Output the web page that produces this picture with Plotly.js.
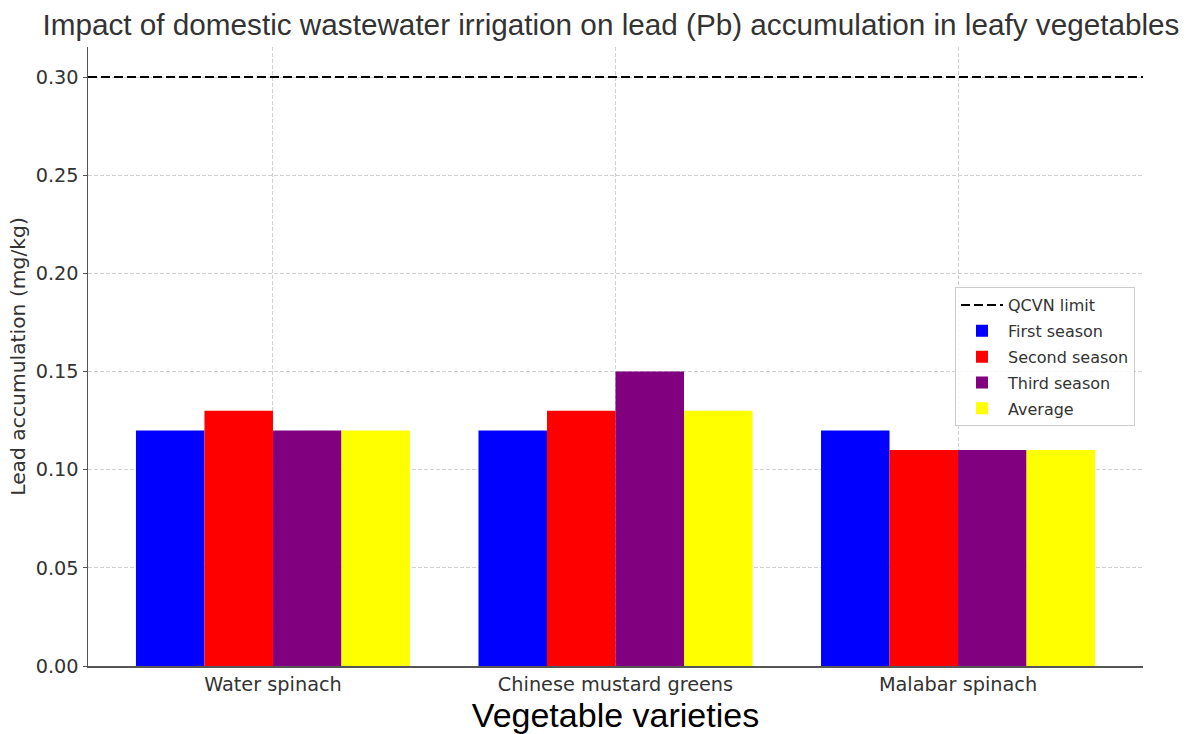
<!DOCTYPE html>
<html>
<head>
<meta charset="utf-8">
<script src="https://cdn.plot.ly/plotly-3.0.1.min.js"></script>
<style>html,body{margin:0;padding:0;background:#fff;}#chart{width:1199px;height:734px;}</style>
</head>
<body>
<div id="chart"></div>
<script>
const categories = ['Water spinach', 'Chinese mustard greens', 'Malabar spinach'];
const firstSeason = [0.12, 0.12, 0.12];
const secondSeason = [0.13, 0.13, 0.11];
const thirdSeason = [0.12, 0.15, 0.11];
const average = [0.12, 0.13, 0.11];
const qcvnLimit = 0.30;
const yTicks = [0, 0.05, 0.10, 0.15, 0.20, 0.25, 0.30];

const seriesNames = ['First season', 'Second season', 'Third season', 'Average'];
const seriesValues = [firstSeason, secondSeason, thirdSeason, average];
const seriesColors = ['#0000ff', '#ff0000', '#800080', '#ffff00'];

const traces = [{
  type: 'scatter', mode: 'lines', name: 'QCVN limit',
  x: [null], y: [null],
  line: {color: '#000000', width: 2, dash: '9px,4px'},
  legendgroup: 'g0', showlegend: true, hoverinfo: 'skip'
}];
seriesNames.forEach((n, i) => {
  traces.push({
    type: 'bar', name: n, x: categories, y: seriesValues[i],
    marker: {color: seriesColors[i], line: {width: 0}},
    legendgroup: 'g' + (i + 1)
  });
});

const tickFont = {family: 'DejaVu Sans', size: 19.3, color: '#333333'};

const layout = {
  width: 1199, height: 734,
  margin: {l: 88, r: 56, t: 47, b: 68},
  paper_bgcolor: '#ffffff', plot_bgcolor: '#ffffff',
  barmode: 'group', bargap: 0.2, bargroupgap: 0,
  title: {
    text: 'Impact of domestic wastewater irrigation on lead (Pb) accumulation in leafy vegetables',
    font: {family: 'Liberation Sans', size: 29.7, color: '#333333'},
    xref: 'paper', x: 0.4957, xanchor: 'center',
    yref: 'container', y: 0.967, yanchor: 'middle'
  },
  xaxis: {
    type: 'category', range: [-0.54, 2.54],
    showline: true, linecolor: '#555555', linewidth: 1.5,
    ticks: '', ticklen: 0,
    showgrid: true, gridcolor: '#d0d0d0', griddash: '4px,2px', gridwidth: 1,
    tickfont: tickFont, zeroline: false, automargin: false,
    title: {text: 'Vegetable varieties', font: {family: 'Liberation Sans', size: 34, color: '#000000'}, standoff: 10}
  },
  yaxis: {
    range: [0, 0.3153], tickvals: yTicks, tickformat: '.2f',
    showline: true, linecolor: '#555555', linewidth: 1.5,
    ticks: 'outside', ticklen: 4, tickcolor: '#555555',
    showgrid: true, gridcolor: '#d0d0d0', griddash: '4px,2px', gridwidth: 1,
    tickfont: tickFont, zeroline: false, automargin: false,
    title: {text: 'Lead accumulation (mg/kg)', font: {family: 'DejaVu Sans', size: 20.3, color: '#333333'}, standoff: 4}
  },
  shapes: [{
    type: 'line', xref: 'paper', x0: 0, x1: 1, yref: 'y', y0: qcvnLimit, y1: qcvnLimit,
    line: {color: '#000000', width: 2, dash: '9px,4px'}, layer: 'above'
  }],
  legend: {
    x: 0.8218, xanchor: 'left', y: 0.612, yanchor: 'top',
    bgcolor: 'rgba(255,255,255,0.85)', bordercolor: '#cccccc', borderwidth: 1,
    font: {family: 'DejaVu Sans', size: 16, color: '#333333'},
    traceorder: 'grouped', tracegroupgap: 2, itemwidth: 42
  },
  showlegend: true
};

Plotly.newPlot('chart', traces, layout, {displayModeBar: false, staticPlot: true});
</script>
</body>
</html>
